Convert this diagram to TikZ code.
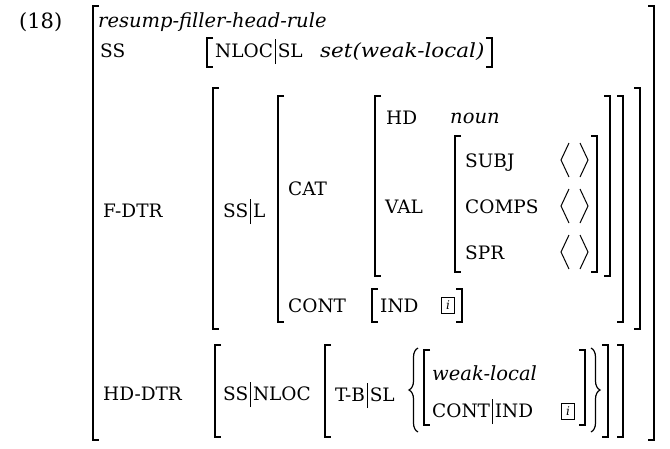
\documentclass[tikz,border=0pt]{standalone}
\usepackage{fontspec}
\setmainfont{DejaVu Serif}
\usetikzlibrary{decorations.pathreplacing}
\newcommand\lb[1]{{\fontsize{18.5}{18.5}\selectfont #1}}
\newcommand\itx[1]{{\fontsize{19.5}{19.5}\selectfont\itshape #1}}
\newcommand\vbar{\hspace{2pt}\rule[-7pt]{0.8pt}{25pt}\hspace{2pt}}
\newcommand\LBrk[3]{\draw[brk] (#1+6,#2) -- (#1,#2) -- (#1,#3) -- (#1+6,#3);}
\newcommand\RBrk[3]{\draw[brk] (#1-6,#2) -- (#1,#2) -- (#1,#3) -- (#1-6,#3);}
\newcommand\Angles[1]{\draw[ang] (569,#1-17) -- (561,#1) -- (569,#1+17);\draw[ang] (580,#1-17) -- (588,#1) -- (580,#1+17);}
\begin{document}
\begin{tikzpicture}[x=1pt,y=-1pt,
  txt/.style={anchor=base west, inner sep=0pt},
  brk/.style={line width=1.5pt},
  ang/.style={line width=1pt},
  ibox/.style={draw, line width=0.7pt, minimum width=13pt, minimum height=16pt, inner sep=0pt, font=\fontsize{12}{12}\selectfont\itshape},
  brc/.style={decorate, decoration={brace, amplitude=9pt}, line width=1.2pt}]
\useasboundingbox (0,0) rectangle (670,448);
% example number
\node[txt] (num) at (19,28) {{\fontsize{21}{21}\selectfont (18)}};
% outer matrix
\LBrk{93}{6}{440}
\RBrk{654}{6}{440}
\node[txt] (type) at (98,27) {\itx{resump-filler-head-rule}};
% SS row
\node[txt] (ss) at (100,57) {\lb{SS}};
\LBrk{207}{38}{67}
\node[txt] (nlocsl) at (215,57) {\lb{NLOC\vbar SL}};
\node[txt] (setwl) at (320,57) {\scalebox{1.1}[1]{\itx{set(weak-local)}}};
\RBrk{492}{38}{67}
% F-DTR row
\node[txt] (fdtr) at (103,217) {\lb{F-DTR}};
\LBrk{213}{88}{329}
\RBrk{640}{88}{329}
\node[txt] (ssl) at (223,217) {\lb{SS\vbar L}};
\LBrk{278}{96}{322}
\RBrk{623}{96}{322}
\node[txt] (cat) at (288,195) {\lb{CAT}};
\LBrk{375}{96}{276}
\RBrk{610}{96}{276}
\node[txt] (hd) at (386,124) {\lb{HD}};
\node[txt] (noun) at (450,123) {\itx{noun}};
\node[txt] (val) at (385,213) {\lb{VAL}};
\LBrk{455}{136}{272}
\RBrk{597}{136}{272}
\node[txt] (subj) at (465,167) {\lb{SUBJ}};
\node[txt] (comps) at (465,213) {\lb{COMPS}};
\node[txt] (spr) at (465,259) {\lb{SPR}};
\Angles{160}
\Angles{206}
\Angles{252}
\node[txt] (cont) at (288,312) {\lb{CONT}};
\LBrk{372}{289}{322}
\node[txt] (ind) at (380,312) {\lb{IND}};
\node[ibox] (i1) at (448,305) {i};
\RBrk{462}{289}{322}
% HD-DTR row
\node[txt] (hddtr) at (103,400) {\lb{HD-DTR}};
\LBrk{215}{345}{437}
\RBrk{623}{345}{437}
\node[txt] (ssnloc) at (223,400) {\lb{SS\vbar NLOC}};
\LBrk{325}{345}{437}
\RBrk{608}{345}{437}
\node[txt] (tbsl) at (335,401) {\lb{T-B\vbar SL}};
\draw[brc] (418,432) -- (418,348);
\LBrk{424}{350}{425}
\node[txt] (wl) at (432,380) {\itx{weak-local}};
\node[txt] (contind) at (432,417) {\lb{CONT\vbar IND}};
\node[ibox] (i2) at (568,411) {i};
\RBrk{585}{350}{425}
\draw[brc] (591,348) -- (591,432);
\end{tikzpicture}
\end{document}
